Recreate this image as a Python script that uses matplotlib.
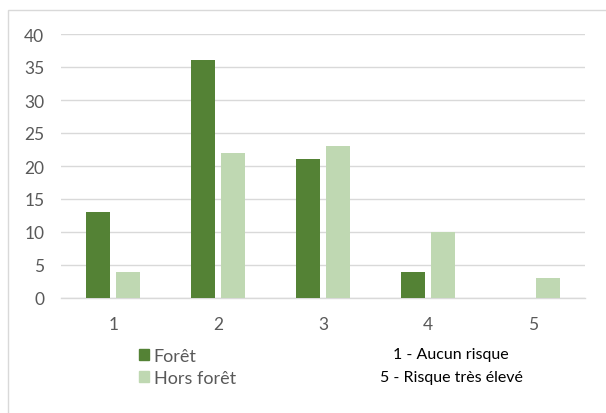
import numpy as np
import matplotlib
matplotlib.use("Agg")
import matplotlib.pyplot as plt
from matplotlib.patches import Rectangle, Patch

# data
categories = ["1", "2", "3", "4", "5"]
foret = [13, 36, 21, 4, 0]
hors_foret = [4, 22, 23, 10, 3]
yticks = [0, 5, 10, 15, 20, 25, 30, 35, 40]

plt.rcParams['font.family'] = ['Lato', 'DejaVu Sans']

fig = plt.figure(figsize=(6.06, 4.14), dpi=100)
ax = fig.add_axes([61/606, 1 - 299/414, (585-61)/606, (299-35)/414])

x = np.arange(len(categories))
w = 0.23
off = 0.143
ax.bar(x - off, foret, width=w, color="#548235", zorder=3)
ax.bar(x + off, hors_foret, width=w, color="#BFD8B2", zorder=3)

ax.set_xlim(-0.5, len(categories) - 0.5)
ax.set_ylim(0, 40)
ax.set_yticks(yticks)
ax.set_xticks(x)
ax.set_xticklabels(categories)
ax.yaxis.grid(True, color="#D9D9D9", linewidth=1.0, zorder=0)
ax.tick_params(axis="both", length=0, labelsize=12.5, colors="#595959")
ax.tick_params(axis="y", pad=12)
ax.tick_params(axis="x", pad=13)
for s in ["top", "right", "left"]:
    ax.spines[s].set_visible(False)
ax.spines["bottom"].set_color("#D9D9D9")
ax.spines["bottom"].set_linewidth(1.0)

# legend at bottom left
handles = [Patch(color="#548235", label="Forêt"), Patch(color="#BFD8B2", label="Hors forêt")]
fig.legend(handles=handles, loc="center left", bbox_to_anchor=(123/606, 1 - 368/414),
           frameon=False, fontsize=13, labelcolor="#595959", handlelength=0.55,
           handleheight=0.55, handletextpad=0.25, labelspacing=0.35)

# scale note
fig.text(451/606, 1 - 355/414, "1 - Aucun risque", ha="center", va="center", fontsize=11.5, color="black")
fig.text(451/606, 1 - 378/414, "5 - Risque très élevé", ha="center", va="center", fontsize=11.5, color="black")

# chart border
fig.add_artist(Rectangle((8/606, -0.1), 1.1, 1.1 - 11/414, transform=fig.transFigure,
                         fill=False, edgecolor="#D9D9D9", linewidth=1.0))

fig.savefig("out.png", dpi=100)
